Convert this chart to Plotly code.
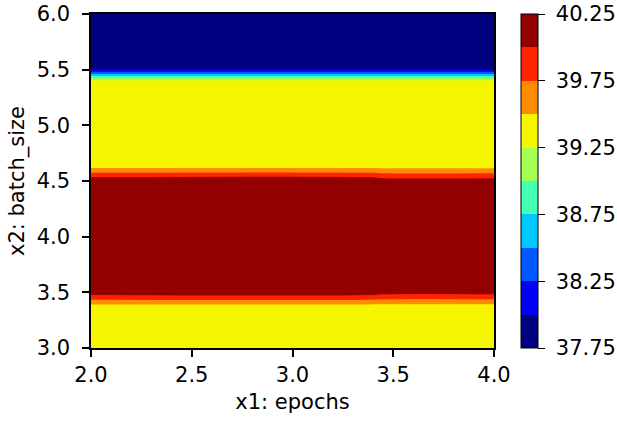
import plotly.graph_objects as go

# Grid
x1_epochs = [2.0, 3.38, 3.45, 4.0]
x2_batch = [3.0, 3.375, 3.492, 4.516, 4.633, 5.393, 5.511, 6.0]
z_rows = [
    [39.40, 39.40, 39.40, 39.40],
    [39.40, 39.40, 39.40, 39.40],
    [40.10, 40.10, 40.05, 40.05],
    [40.10, 40.10, 40.05, 40.05],
    [39.40, 39.40, 39.40, 39.40],
    [39.40, 39.40, 39.40, 39.40],
    [37.85, 37.85, 37.85, 37.85],
    [37.85, 37.85, 37.85, 37.85],
]
level_start, level_end, level_step = 37.75, 40.25, 0.25
cbar_ticks = [37.75, 38.25, 38.75, 39.25, 39.75, 40.25]
x_ticks = [2.0, 2.5, 3.0, 3.5, 4.0]
y_ticks = [3.0, 3.5, 4.0, 4.5, 5.0, 5.5, 6.0]

band_colors = ["#000080", "#0000f5", "#0058ff", "#00c8ff", "#45ffb2",
               "#a5ff52", "#f5f500", "#ff8c00", "#ff2400", "#920000"]

n = len(band_colors)

# colorscale for the contour fill (plotly maps band k to position (k+1)/(n+1))
nseg = n + 1
contour_scale = []
for k, c in enumerate(band_colors):
    lo = (k + 0.5) / nseg if k > 0 else 0.0
    hi = (k + 1.5) / nseg if k < n - 1 else 1.0
    contour_scale.append([lo, c])
    contour_scale.append([hi, c])

# stepped colorscale for the colorbar (exact range start..end)
bar_scale = []
for k, c in enumerate(band_colors):
    bar_scale.append([k / n, c])
    bar_scale.append([(k + 1) / n, c])

FONT = "DejaVu Sans"
FS = 21

W, H = 617, 423
ML, MR, MT, MB = 91, 123, 14, 75
plot_w = W - ML - MR

fig = go.Figure()
fig.add_trace(go.Contour(
    x=x1_epochs, y=x2_batch, z=z_rows,
    autocontour=False,
    contours=dict(start=level_start, end=level_end, size=level_step,
                  coloring="fill", showlines=False),
    line=dict(width=0),
    colorscale=contour_scale,
    showscale=False,
    hoverinfo="skip",
))

# invisible carrier for the colorbar
fig.add_trace(go.Scatter(
    x=[x1_epochs[0], x1_epochs[0]], y=[x2_batch[0], x2_batch[0]],
    mode="markers",
    marker=dict(
        size=1, opacity=0,
        color=[level_start, level_end], cmin=level_start, cmax=level_end,
        colorscale=bar_scale, showscale=True,
        colorbar=dict(
            x=27.5 / plot_w + 1.0, xanchor="left", xpad=0,
            y=0.5, yanchor="middle", ypad=0, len=1, lenmode="fraction",
            thickness=17, outlinewidth=1, outlinecolor="black",
            tickvals=cbar_ticks,
            ticktext=["\u00a0" + f"{v:.2f}" for v in cbar_ticks],
            ticks="outside", ticklen=7, tickwidth=1.3, tickcolor="black",
            ticklabeloverflow="allow",
            tickfont=dict(family=FONT, size=FS, color="black"),
        ),
    ),
    hoverinfo="skip", showlegend=False,
))

axis_common = dict(
    showgrid=False, zeroline=False, showline=True, mirror=True,
    linecolor="black", linewidth=1.5,
    ticks="outside", ticklen=7, tickwidth=1.5, tickcolor="black",
    tickfont=dict(family=FONT, size=FS, color="black"),
    ticklabeloverflow="allow",
    automargin=False,
)

fig.update_layout(
    width=W, height=H,
    margin=dict(l=ML, r=MR, t=MT, b=MB, autoexpand=False),
    paper_bgcolor="white", plot_bgcolor="white",
    font=dict(family=FONT, size=FS, color="black"),
    showlegend=False,
    hovermode=False,
    xaxis=dict(range=[2, 4], tickvals=x_ticks,
               ticktext=[f"{v:.1f}" for v in x_ticks],
               title=dict(text="x1: epochs", font=dict(family=FONT, size=FS), standoff=8),
               **axis_common),
    yaxis=dict(range=[3, 6], tickvals=y_ticks,
               ticktext=[f"{v:.1f}" for v in y_ticks],
               ticklabelstandoff=8,
               title=dict(text="x2: batch_size", font=dict(family=FONT, size=FS), standoff=6),
               **axis_common),
)

fig.write_html("out.html", config={"displayModeBar": False},
               post_script="document.body.style.margin='0px';")
